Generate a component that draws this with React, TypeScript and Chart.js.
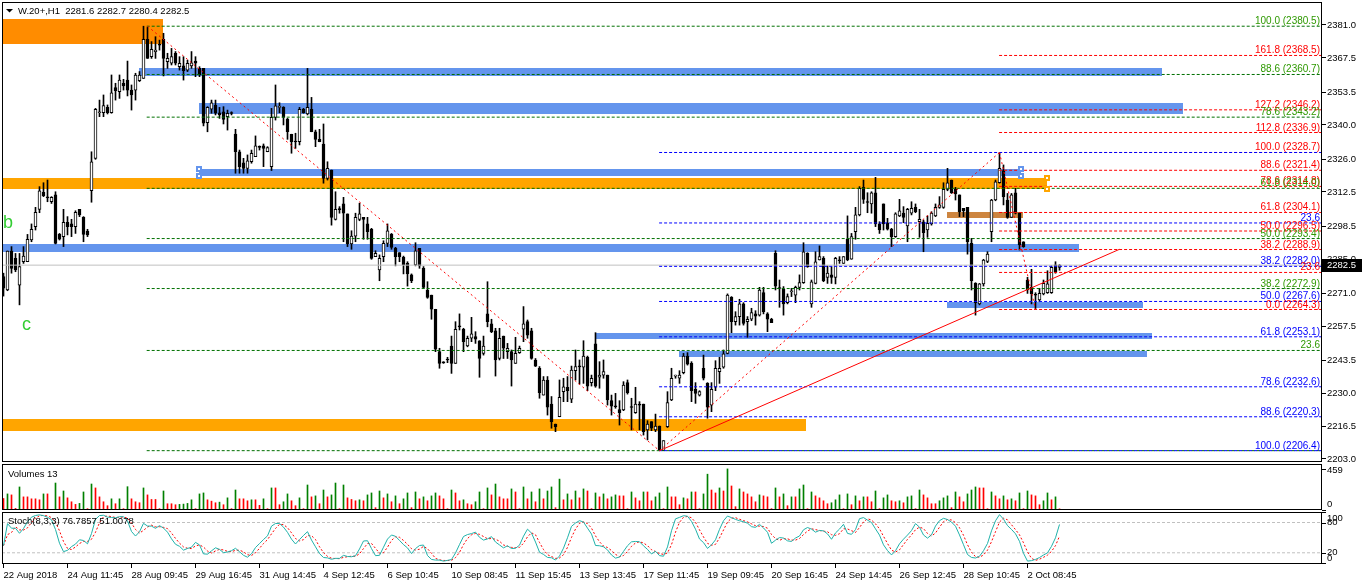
import React, { useEffect, useRef } from 'react';
import { Chart, registerables } from 'chart.js';

Chart.register(...registerables);

// ---------------- data ----------------
const symbolLabel = 'W.20+,H1';

const openP = [
  2277.8,2272.3,2288.3,2285.3,2274.3,2283.9,2283.9,2292.8,2298.3,2305.4,
  2312.4,2310.3,2308.5,2311.3,2295.1,2294.2,2300.1,2299.4,2298.3,2305.4,
  2302.1,2296.5,2313.0,2326.3,2345.0,2345.0,2347.2,2345.0,2355.3,2353.6,
  2357.1,2358.4,2354.3,2354.3,2358.2,2359.1,2375.1,2368.0,2370.1,2372.8,
  2375.1,2366.0,2365.3,2369.4,2363.9,2364.2,2362.5,2364.2,2366.2,2363.2,
  2363.2,2340.9,2346.5,2348.0,2345.0,2345.4,2343.4,2344.8,2336.3,2329.0,
  2324.5,2322.2,2324.9,2327.0,2331.1,2331.4,2329.0,2322.9,2343.1,2347.2,
  2347.2,2342.4,2336.2,2333.1,2333.1,2346.4,2344.5,2346.4,2337.2,2334.1,
  2332.2,2318.1,2321.5,2301.3,2305.4,2307.6,2303.5,2291.2,2294.4,2301.3,
  2302.1,2299.4,2297.2,2286.0,2280.5,2286.0,2291.4,2295.1,2289.4,2287.6,
  2285.7,2283.2,2278.5,2282.6,2289.4,2281.2,2272.3,2270.2,2264.4,2247.0,
  2242.5,2243.6,2249.3,2242.2,2257.3,2256.2,2249.4,2252.5,2253.2,2251.5,
  2246.3,2262.5,2258.4,2255.6,2244.2,2253.4,2247.0,2247.0,2242.2,2246.6,
  2256.2,2259.3,2255.6,2243.6,2240.2,2229.2,2235.4,2225.5,2217.3,2220.3,
  2230.6,2232.4,2227.5,2239.2,2240.9,2240.6,2244.7,2234.3,2250.2,2236.5,
  2237.4,2237.4,2226.9,2224.5,2223.3,2223.1,2234.3,2224.2,2222.0,2225.2,
  2225.5,2214.9,2218.3,2214.9,2216.5,2206.4,2216.2,2227.2,2237.0,2236.1,
  2238.4,2245.2,2242.2,2231.6,2229.2,2240.2,2234.0,2225.1,2232.4,2238.8,
  2240.6,2246.3,2269.3,2259.3,2261.4,2266.6,2259.3,2260.3,2262.5,2262.0,
  2271.2,2262.5,2260.3,2287.3,2273.0,2272.6,2267.1,2271.6,2270.2,2273.4,
  2275.3,2287.3,2266.6,2275.0,2284.6,2285.3,2277.5,2278.5,2277.5,2284.4,
  2283.2,2293.1,2284.9,2296.2,2303.1,2314.4,2308.3,2307.6,2312.2,2299.4,
  2307.6,2299.9,2297.2,2294.2,2302.7,2303.8,2298.6,2303.8,2306.2,2300.3,
  2300.3,2296.9,2299.4,2302.7,2306.2,2306.2,2313.6,2317.4,2313.6,2311.3,
  2305.8,2306.2,2291.4,2275.0,2266.6,2274.8,2284.0,2296.2,2309.2,2316.3,
  2321.3,2309.2,2302.1,2312.2,2303.8,2292.1,2276.4,2273.4,2270.3,2268.2,
  2270.7,2271.2,2271.2,2282.6,2281.6,
];

const highP = [
  2279.2,2288.3,2290.1,2287.3,2287.3,2290.1,2295.1,2299.4,2306.2,2314.7,
  2316.3,2317.4,2310.6,2312.6,2295.5,2305.4,2302.4,2301.3,2304.8,2305.4,
  2302.4,2297.2,2329.0,2346.8,2350.2,2352.3,2348.2,2360.5,2357.1,2360.5,
  2358.7,2366.2,2356.4,2361.2,2361.9,2380.5,2380.0,2374.2,2376.2,2374.8,
  2377.6,2369.4,2371.4,2370.1,2368.0,2368.0,2366.6,2370.1,2368.0,2363.9,
  2363.2,2347.5,2350.2,2350.2,2347.2,2347.5,2346.1,2345.4,2338.2,2329.7,
  2326.3,2327.7,2329.7,2335.5,2331.4,2332.2,2331.1,2346.8,2356.4,2349.1,
  2347.5,2342.7,2336.2,2336.6,2347.2,2346.8,2363.2,2351.3,2337.9,2338.2,
  2340.4,2324.9,2321.5,2312.6,2306.5,2310.3,2303.5,2296.6,2303.8,2307.9,
  2302.1,2302.1,2297.6,2288.4,2286.7,2292.5,2299.4,2295.5,2289.8,2287.6,
  2286.2,2283.9,2278.9,2291.7,2289.4,2281.9,2275.7,2270.2,2264.4,2248.4,
  2242.9,2244.7,2253.4,2259.3,2262.5,2256.6,2253.4,2261.1,2255.2,2251.5,
  2253.4,2275.7,2260.3,2256.6,2256.6,2253.4,2250.4,2247.7,2252.9,2249.3,
  2265.5,2260.0,2256.6,2244.2,2240.9,2236.8,2236.8,2228.6,2217.3,2235.4,
  2236.1,2236.8,2241.1,2247.7,2243.6,2251.5,2245.2,2237.4,2254.8,2242.9,
  2243.6,2237.4,2229.2,2229.9,2226.9,2234.7,2235.4,2227.9,2232.4,2226.5,
  2225.5,2218.7,2218.3,2221.4,2216.5,2210.5,2230.6,2240.2,2237.4,2239.2,
  2246.3,2246.6,2242.9,2234.3,2231.0,2245.6,2234.3,2234.3,2243.3,2244.7,
  2247.7,2270.7,2269.6,2263.4,2268.5,2267.1,2261.4,2264.8,2263.8,2273.4,
  2273.4,2263.0,2260.7,2288.4,2276.4,2273.7,2270.7,2273.0,2273.9,2278.5,
  2291.7,2287.6,2276.4,2288.0,2290.4,2286.0,2282.2,2281.9,2285.7,2286.0,
  2286.0,2302.7,2295.5,2306.2,2314.7,2317.4,2312.2,2312.6,2318.5,2300.3,
  2307.6,2301.7,2297.6,2304.0,2309.5,2306.5,2305.8,2308.5,2307.6,2305.4,
  2301.0,2302.7,2304.4,2307.6,2310.6,2316.3,2322.2,2317.4,2314.4,2311.3,
  2305.8,2306.2,2293.5,2275.3,2275.0,2284.9,2288.0,2309.5,2317.4,2328.7,
  2323.6,2311.9,2311.9,2314.0,2304.0,2292.1,2277.5,2280.8,2271.2,2273.0,
  2276.4,2280.2,2282.2,2283.9,2282.7,
];

const lowP = [
  2269.8,2272.0,2279.2,2279.8,2266.2,2283.2,2283.9,2292.1,2296.9,2304.0,
  2310.6,2308.5,2307.8,2291.2,2292.8,2290.1,2294.9,2294.2,2295.5,2302.4,
  2292.1,2294.2,2308.3,2325.9,2343.4,2343.4,2344.5,2344.8,2350.2,2350.9,
  2354.3,2351.9,2346.1,2350.2,2357.8,2359.1,2367.3,2367.3,2367.3,2370.7,
  2360.1,2363.2,2364.6,2364.6,2362.5,2358.4,2361.9,2363.2,2359.8,2359.8,
  2339.6,2337.2,2344.8,2344.1,2342.7,2340.4,2337.9,2344.1,2320.2,2320.2,
  2320.2,2320.2,2324.3,2327.0,2329.7,2322.9,2329.0,2321.3,2342.0,2345.0,
  2340.0,2334.1,2328.4,2330.4,2331.8,2344.8,2344.1,2337.2,2331.1,2333.1,
  2316.1,2317.4,2298.9,2301.0,2303.8,2292.1,2290.1,2289.0,2292.1,2300.7,
  2293.1,2293.1,2284.9,2286.0,2276.1,2283.9,2290.1,2289.0,2282.2,2283.9,
  2278.9,2273.9,2275.3,2282.2,2281.2,2272.9,2268.9,2260.3,2247.0,2240.2,
  2242.2,2242.5,2238.1,2242.2,2255.9,2247.0,2249.0,2251.1,2250.4,2236.5,
  2245.6,2257.2,2254.8,2237.0,2243.6,2244.2,2244.2,2232.9,2242.2,2246.3,
  2251.1,2252.5,2243.9,2240.9,2227.9,2229.2,2221.0,2215.6,2214.2,2220.3,
  2226.5,2226.5,2226.1,2235.4,2233.7,2234.0,2231.0,2232.9,2232.4,2232.0,
  2236.1,2225.1,2221.0,2223.8,2216.9,2222.8,2229.6,2214.9,2221.7,2214.9,
  2212.8,2210.8,2214.6,2214.2,2206.4,2206.4,2215.9,2226.9,2236.1,2234.0,
  2237.9,2241.5,2226.5,2225.8,2228.8,2235.4,2219.7,2222.4,2231.0,2234.0,
  2240.2,2246.1,2254.8,2257.9,2257.9,2257.9,2252.9,2259.7,2257.9,2261.6,
  2262.5,2255.2,2258.9,2272.3,2265.2,2262.0,2266.6,2269.6,2267.1,2272.3,
  2275.0,2281.6,2265.2,2274.8,2284.6,2275.7,2275.0,2275.0,2274.8,2283.2,
  2283.2,2284.3,2284.9,2293.1,2302.7,2307.8,2304.0,2303.8,2298.3,2295.5,
  2296.9,2296.9,2290.1,2293.9,2302.4,2299.9,2292.1,2303.1,2304.0,2293.9,
  2288.0,2293.9,2298.9,2302.4,2305.8,2305.8,2313.0,2311.9,2309.2,2302.4,
  2302.4,2287.0,2272.3,2262.0,2266.2,2273.9,2283.5,2292.1,2308.9,2316.1,
  2307.2,2301.7,2302.1,2303.5,2288.7,2289.8,2270.9,2266.6,2264.3,2267.5,
  2270.3,2270.9,2270.9,2279.2,2280.4,
];

const closeP = [
  2273.0,2288.3,2281.2,2280.5,2281.9,2286.2,2293.1,2297.2,2304.2,2313.0,
  2311.0,2310.1,2310.3,2291.4,2293.1,2300.1,2298.3,2298.3,2304.2,2303.1,
  2295.1,2294.9,2324.9,2346.4,2345.2,2347.9,2345.0,2353.2,2354.1,2358.4,
  2356.0,2354.3,2352.3,2360.5,2360.5,2375.1,2367.3,2371.0,2370.7,2372.7,
  2367.3,2367.3,2368.0,2365.3,2365.3,2362.3,2365.3,2365.5,2365.3,2360.5,
  2340.7,2347.2,2349.1,2344.8,2344.1,2342.3,2344.8,2344.7,2329.0,2322.9,
  2322.2,2325.3,2328.4,2331.4,2330.8,2330.4,2330.7,2343.1,2347.8,2347.3,
  2343.1,2337.2,2333.1,2333.0,2346.4,2345.0,2347.2,2337.2,2334.1,2333.1,
  2318.1,2322.2,2302.1,2305.4,2305.3,2303.8,2291.2,2294.4,2302.1,2303.5,
  2301.3,2296.2,2285.3,2287.3,2285.3,2291.4,2296.6,2289.8,2286.0,2286.0,
  2282.6,2278.9,2276.1,2288.4,2282.2,2273.4,2269.3,2264.4,2248.0,2242.2,
  2242.4,2243.6,2242.2,2256.2,2257.2,2251.1,2252.5,2254.3,2252.1,2244.2,
  2249.3,2259.3,2255.2,2243.6,2252.5,2248.4,2248.4,2243.6,2246.3,2248.4,
  2258.4,2253.8,2244.2,2241.1,2230.2,2235.4,2224.2,2218.3,2216.2,2228.3,
  2232.6,2231.0,2239.5,2240.9,2240.8,2245.2,2232.9,2236.1,2232.9,2237.4,
  2238.8,2227.2,2224.7,2224.4,2222.0,2233.3,2230.2,2224.1,2225.5,2225.1,
  2214.2,2217.3,2215.6,2216.5,2206.7,2210.5,2226.1,2236.1,2237.1,2237.4,
  2245.2,2241.9,2231.0,2229.9,2230.6,2236.1,2224.2,2231.6,2240.2,2240.2,
  2246.1,2270.2,2259.3,2261.4,2266.6,2258.6,2260.3,2263.0,2261.6,2272.3,
  2263.4,2260.3,2258.9,2273.9,2272.9,2266.6,2269.6,2271.7,2273.4,2275.3,
  2288.0,2281.9,2275.7,2283.9,2286.0,2276.1,2279.2,2277.5,2285.3,2284.3,
  2286.0,2284.6,2294.2,2303.1,2314.0,2309.5,2308.2,2312.2,2299.4,2296.9,
  2299.4,2297.2,2294.2,2303.5,2304.8,2302.1,2305.4,2305.8,2304.4,2301.3,
  2295.8,2299.6,2303.8,2306.2,2307.2,2313.6,2316.3,2312.2,2311.7,2304.4,
  2304.8,2292.1,2276.1,2267.1,2274.8,2284.6,2287.0,2309.2,2316.7,2322.2,
  2310.6,2302.1,2311.3,2303.8,2290.8,2290.1,2272.3,2270.7,2270.2,2270.9,
  2275.0,2274.8,2281.6,2279.8,2282.5,
];

const volumes = [
  129,180,169,18,258,147,147,125,125,114,
  180,180,7,302,147,213,136,92,63,74,
  202,15,291,247,147,92,48,125,70,125,
  15,261,125,92,81,247,169,118,118,15,
  213,70,70,59,63,66,74,114,15,180,
  191,114,99,81,88,59,136,15,224,125,
  125,103,114,114,52,125,15,247,247,59,
  92,180,103,48,136,15,280,147,158,70,
  224,147,169,302,15,280,136,118,103,114,
  103,169,191,26,213,136,180,92,158,70,
  125,191,26,202,125,147,103,158,191,158,
  125,15,224,191,103,114,70,59,92,202,
  15,247,169,291,147,125,125,236,202,15,
  258,125,202,92,236,125,213,258,26,346,
  114,180,114,213,136,236,213,15,191,147,
  180,125,147,169,158,158,15,202,136,103,
  202,202,103,147,191,15,258,147,147,59,
  136,125,202,202,15,180,401,224,191,247,
  213,460,269,37,236,202,180,147,92,169,
  158,147,15,247,147,180,48,147,147,236,
  280,15,202,158,136,103,70,81,114,169,
  15,180,59,158,103,147,147,92,213,15,
  136,169,103,92,103,81,147,158,15,224,
  169,136,70,70,103,136,158,26,202,147,
  92,180,224,258,247,247,15,202,158,125,
  158,114,125,103,191,15,213,169,158,59,
  103,191,114,147,13,
];

const priceTicks = [2381.0, 2367.5, 2353.5, 2340.0, 2326.0, 2312.5, 2298.5, 2285.0, 2271.0, 2257.5, 2243.5, 2230.0, 2216.5, 2203.0];
const volumeTicks = [459, 0];
const stochTicks = [100, 80, 20, 0];
const stochLevels = [80, 20];
const stochTitle = 'Stoch(8,3,3) 76.7857 51.0078';

const dateTickBars = [0, 16, 32, 48, 64, 80, 96, 112, 128, 144, 160, 176, 192, 208, 224, 240, 256];
const dateTickLabels = [
  '22 Aug 2018', '24 Aug 11:45', '28 Aug 09:45', '29 Aug 16:45', '31 Aug 14:45', '4 Sep 12:45',
  '6 Sep 10:45', '10 Sep 08:45', '11 Sep 15:45', '13 Sep 13:45', '17 Sep 11:45', '19 Sep 09:45',
  '20 Sep 16:45', '24 Sep 14:45', '26 Sep 12:45', '28 Sep 10:45', '2 Oct 08:45',
];

// Fibonacci objects (level %, price); labels hidden where another object's label covers them
const greenFibLevels = [0, 23.6, 38.2, 50, 61.8, 78.6, 88.6, 100];
const greenFibPrices = [2206.4, 2247.5, 2272.9, 2293.4, 2314.0, 2343.2, 2360.7, 2380.5];
const greenFibHidden = [0];
const greenFibStart = 35.8;
const blueFibLevels = [0, 23.6, 38.2, 50, 61.8, 78.6, 88.6, 100];
const blueFibPrices = [2328.7, 2299.8, 2282.0, 2267.6, 2253.1, 2232.6, 2220.3, 2206.4];
const blueFibHidden = [0];
const blueFibStart = 163.9;
const redFibLevels = [0, 23.6, 38.2, 50, 61.8, 78.6, 88.6, 100, 112.8, 127.2, 161.8];
const redFibPrices = [2264.3, 2279.5, 2288.9, 2296.5, 2304.1, 2314.8, 2321.4, 2328.7, 2336.9, 2346.2, 2368.5];
const redFibHidden: number[] = [];
const redFibStart = 248.9;

// trend lines (bar index, price)
const trendFromBar = [36, 164, 249, 164];
const trendFromPrice = [2380.5, 2206.4, 2328.7, 2206.4];
const trendToBar = [164, 249, 258, 279];
const trendToPrice = [2206.4, 2328.7, 2264.3, 2289.0];
const trendDashed = [true, true, true, false];

// rectangles (bar index range, price range)
const zoneFrom = [-5, 33.9, 48.9, 48.9, -5, -5, -5, 148.1, 168.9, 235.9, 235.9];
const zoneTo = [39.9, 289.6, 294.9, 254.4, 260.9, 268.9, 200.6, 287.1, 285.9, 284.9, 254.9];
const zoneTop = [2383.5, 2363.2, 2349.1, 2321.9, 2318.1, 2291.2, 2219.4, 2254.8, 2247.4, 2267.2, 2304.3];
const zoneBottom = [2373.2, 2360.1, 2344.5, 2319.2, 2313.8, 2288.0, 2214.6, 2252.1, 2245.0, 2264.8, 2301.8];
const zoneKind = ['darkorange', 'blue', 'blue', 'blue', 'orange', 'blue', 'orange', 'blue', 'blue', 'blue', 'brown'];
const zoneSelected = [false, false, false, true, true, false, false, false, false, false, false];

// text objects
const textLabels = ['b', 'c'];
const textBars = [-0.1, 4.6];
const textPrices = [2297.7, 2255.9];

// ---------------- styling ----------------
const FONT = "'Liberation Sans', Arial, sans-serif";
const SMALL = 9.5;
const X_MIN = -0.375;
const X_MAX = 329.625;
const AXIS_W = 40;
const ZONE_COLORS: any = { darkorange: '#FF8C00', orange: '#FFA500', blue: '#6495ED', brown: '#CD853F' };
const GREEN_LINE = '#007000';
const GREEN_TEXT = '#2E9900';
const BLUE = '#0000FF';
const RED = '#FF0000';

function stochastic(h: number[], l: number[], c: number[], kPeriod: number, slowing: number, dPeriod: number) {
  const n = c.length;
  const num: number[] = [];
  const den: number[] = [];
  for (let i = 0; i < n; i++) {
    const s = Math.max(0, i - kPeriod + 1);
    let hh = -Infinity;
    let ll = Infinity;
    for (let j = s; j <= i; j++) {
      hh = Math.max(hh, h[j]);
      ll = Math.min(ll, l[j]);
    }
    num.push(c[i] - ll);
    den.push(hh - ll);
  }
  const k: number[] = [];
  for (let i = 0; i < n; i++) {
    const s = Math.max(0, i - slowing + 1);
    let sn = 0;
    let sd = 0;
    for (let j = s; j <= i; j++) {
      sn += num[j];
      sd += den[j];
    }
    k.push(sd > 0 ? (100 * sn) / sd : 50);
  }
  const d: number[] = [];
  for (let i = 0; i < n; i++) {
    const s = Math.max(0, i - dPeriod + 1);
    let sum = 0;
    for (let j = s; j <= i; j++) sum += k[j];
    d.push(sum / (i - s + 1));
  }
  return { k, d };
}

const framePlugin = {
  id: 'frame',
  afterDraw(chart: any) {
    const { ctx, chartArea: a } = chart;
    ctx.save();
    ctx.strokeStyle = '#000';
    ctx.lineWidth = 1;
    const l = Math.round(a.left);
    const t = Math.round(a.top);
    const r = Math.round(a.right);
    const b = Math.round(a.bottom);
    ctx.strokeRect(l + 0.5, t + 0.5, r - l - 1, b - t - 1);
    ctx.restore();
  },
};

function sideLabels(chart: any, values: number[]) {
  const { ctx, chartArea: a, scales } = chart;
  const y = scales.y;
  ctx.save();
  ctx.font = `${SMALL}px ${FONT}`;
  ctx.fillStyle = '#000';
  ctx.strokeStyle = '#000';
  ctx.textAlign = 'left';
  ctx.textBaseline = 'middle';
  values.forEach((v) => {
    const py = y.getPixelForValue(v);
    const ly = Math.min(Math.max(py, a.top + 6), a.bottom - 6);
    ctx.beginPath();
    ctx.moveTo(a.right, Math.round(py) + 0.5);
    ctx.lineTo(a.right + 4, Math.round(py) + 0.5);
    ctx.stroke();
    ctx.fillText(String(v), a.right + 5, ly);
  });
  ctx.restore();
}

function fibText(level: number, price: number) {
  if (level === 23.6) return '23.6';
  return `${level.toFixed(1)} (${price.toFixed(1)})`;
}

const noPadFit = (s: any) => {
  s.width = AXIS_W;
  s.paddingTop = 0;
  s.paddingBottom = 0;
};

export default function App() {
  const mainRef = useRef<HTMLCanvasElement>(null);
  const volRef = useRef<HTMLCanvasElement>(null);
  const stochRef = useRef<HTMLCanvasElement>(null);

  useEffect(() => {
    Chart.defaults.font.family = FONT;
    const bars = closeP.map((_, i) => i);
    const last = closeP.length - 1;

    // ---------- main price chart ----------
    const lineDs = (pts: any[], color: string, dash: number[], order: number) => ({
      type: 'line',
      data: pts,
      borderColor: color,
      borderWidth: 1,
      borderDash: dash,
      pointRadius: 0,
      fill: false,
      tension: 0,
      order,
    });

    const fibSets = [
      { levels: blueFibLevels, prices: blueFibPrices, hidden: blueFibHidden, start: blueFibStart, line: BLUE, text: BLUE },
      { levels: redFibLevels, prices: redFibPrices, hidden: redFibHidden, start: redFibStart, line: RED, text: RED },
      { levels: greenFibLevels, prices: greenFibPrices, hidden: greenFibHidden, start: greenFibStart, line: GREEN_LINE, text: GREEN_TEXT },
    ];

    const fibDatasets: any[] = [];
    fibSets.forEach((f) => {
      f.prices.forEach((p) => {
        fibDatasets.push(lineDs([{ x: f.start, y: p }, { x: X_MAX, y: p }], f.line, [3, 2], 3));
      });
    });

    const trendDatasets = trendFromBar.map((fb, i) =>
      lineDs(
        [{ x: fb, y: trendFromPrice[i] }, { x: trendToBar[i], y: trendToPrice[i] }],
        RED,
        trendDashed[i] ? [2, 3] : [],
        2,
      ),
    );

    const bidLine = lineDs([{ x: X_MIN, y: closeP[last] }, { x: X_MAX, y: closeP[last] }], '#C0C0C0', [], 4);

    const zonesPlugin = {
      id: 'zones',
      beforeDatasetsDraw(chart: any) {
        const { ctx, chartArea: a, scales: { x, y } } = chart;
        ctx.save();
        ctx.beginPath();
        ctx.rect(a.left, a.top, a.right - a.left, a.bottom - a.top);
        ctx.clip();
        zoneFrom.forEach((from, i) => {
          const x1 = Math.round(x.getPixelForValue(from));
          const x2 = Math.round(x.getPixelForValue(zoneTo[i]));
          const y1 = Math.round(y.getPixelForValue(zoneTop[i]));
          const y2 = Math.round(y.getPixelForValue(zoneBottom[i]));
          ctx.fillStyle = ZONE_COLORS[zoneKind[i]];
          ctx.fillRect(x1, y1, x2 - x1, y2 - y1);
        });
        ctx.restore();
      },
    };

    const overlayPlugin = {
      id: 'overlay',
      afterDatasetsDraw(chart: any) {
        const { ctx, chartArea: a, scales: { x, y } } = chart;
        ctx.save();
        // selection handles on selected rectangles
        zoneFrom.forEach((from, i) => {
          if (!zoneSelected[i]) return;
          const ends = [from, zoneTo[i]].filter((v) => v > X_MIN && v < X_MAX);
          ends.forEach((e) => {
            const px = Math.round(x.getPixelForValue(e));
            [zoneTop[i], zoneBottom[i]].forEach((p) => {
              const py = Math.round(y.getPixelForValue(p));
              ctx.fillStyle = ZONE_COLORS[zoneKind[i]];
              ctx.fillRect(px - 3, py - 3, 6, 6);
              ctx.fillStyle = '#fff';
              ctx.fillRect(px - 1, py - 1, 2, 2);
            });
          });
        });
        // fibonacci labels
        ctx.font = `10px ${FONT}`;
        ctx.textAlign = 'right';
        ctx.textBaseline = 'alphabetic';
        fibSets.forEach((f) => {
          ctx.fillStyle = f.text;
          f.levels.forEach((lv, j) => {
            if (f.hidden.includes(lv)) return;
            ctx.fillText(fibText(lv, f.prices[j]), a.right - 2, y.getPixelForValue(f.prices[j]) - 2);
          });
        });
        // text objects
        ctx.font = `18px ${FONT}`;
        ctx.fillStyle = '#32CD32';
        ctx.textAlign = 'left';
        textLabels.forEach((t, i) => {
          ctx.fillText(t, x.getPixelForValue(textBars[i]), y.getPixelForValue(textPrices[i]));
        });
        // header
        ctx.fillStyle = '#000';
        ctx.beginPath();
        ctx.moveTo(6, 9);
        ctx.lineTo(13, 9);
        ctx.lineTo(9.5, 12.5);
        ctx.closePath();
        ctx.fill();
        ctx.font = `${SMALL}px ${FONT}`;
        const header = `${symbolLabel}  ${openP[last].toFixed(1)} ${highP[last].toFixed(1)} ${lowP[last].toFixed(1)} ${closeP[last].toFixed(1)}`;
        ctx.fillText(header, 18, 14);
        ctx.restore();
      },
      afterDraw(chart: any) {
        const { ctx, chartArea: a, scales: { y } } = chart;
        const py = Math.round(y.getPixelForValue(closeP[last]));
        ctx.save();
        ctx.fillStyle = '#000';
        ctx.fillRect(a.right, py - 6, 40, 13);
        ctx.fillStyle = '#fff';
        ctx.font = `${SMALL}px ${FONT}`;
        ctx.textAlign = 'left';
        ctx.textBaseline = 'middle';
        ctx.fillText(closeP[last].toFixed(1), a.right + 5, py + 0.5);
        ctx.restore();
      },
    };

    const mainChart = new Chart(mainRef.current as HTMLCanvasElement, {
      type: 'bar',
      data: {
        datasets: [
          ...trendDatasets,
          ...fibDatasets,
          bidLine,
          {
            type: 'bar',
            data: bars.map((i) => ({ x: i, y: [openP[i], closeP[i]] })),
            backgroundColor: bars.map((i) => (closeP[i] > openP[i] ? '#FFFFFF' : '#000000')),
            borderColor: '#000',
            borderWidth: 1,
            borderSkipped: false,
            barThickness: 3,
            minBarLength: 1,
            grouped: false,
            order: 5,
          },
          {
            type: 'bar',
            data: bars.map((i) => ({ x: i, y: [lowP[i], highP[i]] })),
            backgroundColor: '#000',
            borderWidth: 0,
            barThickness: 1,
            minBarLength: 1,
            grouped: false,
            order: 6,
          },
        ] as any,
      },
      options: {
        responsive: false,
        animation: false,
        events: [],
        layout: { autoPadding: false, padding: { left: 2, top: 2, right: 0, bottom: 2 } },
        plugins: { legend: { display: false }, tooltip: { enabled: false } },
        scales: {
          x: { type: 'linear', min: X_MIN, max: X_MAX, offset: false, display: false },
          y: {
            type: 'linear',
            position: 'right',
            min: 2201.75,
            max: 2390.43,
            afterFit: noPadFit,
            afterBuildTicks: (s: any) => { s.ticks = priceTicks.map((v) => ({ value: v })); },
            grid: { drawOnChartArea: false, drawTicks: true, tickLength: 4, color: '#000' },
            border: { display: false },
            ticks: {
              callback: (v: any) => Number(v).toFixed(1),
              font: { family: FONT, size: SMALL },
              color: '#000',
              padding: 1,
            },
          },
        },
      } as any,
      plugins: [zonesPlugin, overlayPlugin, framePlugin],
    });

    // ---------- volume chart ----------
    const volPlugin = {
      id: 'volText',
      afterDraw(chart: any) {
        const { ctx, chartArea: a } = chart;
        ctx.save();
        ctx.font = `${SMALL}px ${FONT}`;
        ctx.fillStyle = '#000';
        ctx.textAlign = 'left';
        ctx.fillText(`Volumes ${volumes[last]}`, 8, a.top + 13);
        ctx.restore();
        sideLabels(chart, volumeTicks);
      },
    };

    const volChart = new Chart(volRef.current as HTMLCanvasElement, {
      type: 'bar',
      data: {
        datasets: [
          {
            data: bars.map((i) => ({ x: i, y: volumes[i] })),
            backgroundColor: bars.map((i) => (i > 0 && volumes[i] > volumes[i - 1] ? '#008000' : '#FF0000')),
            borderWidth: 0,
            barThickness: 1,
            grouped: false,
          },
        ],
      },
      options: {
        responsive: false,
        animation: false,
        events: [],
        layout: { autoPadding: false, padding: { left: 2, top: 1, right: 0, bottom: 1 } },
        plugins: { legend: { display: false }, tooltip: { enabled: false } },
        scales: {
          x: { type: 'linear', min: X_MIN, max: X_MAX, offset: false, display: false },
          y: {
            type: 'linear',
            position: 'right',
            min: 0,
            max: 515,
            afterFit: noPadFit,
            grid: { display: false },
            border: { display: false },
            ticks: { display: false },
          },
        },
      } as any,
      plugins: [volPlugin, framePlugin],
    });

    // ---------- stochastic chart ----------
    const st = stochastic(highP, lowP, closeP, 8, 3, 3);
    const stochPlugin = {
      id: 'stochText',
      afterDraw(chart: any) {
        const { ctx, chartArea: a } = chart;
        ctx.save();
        ctx.font = `${SMALL}px ${FONT}`;
        ctx.fillStyle = '#000';
        ctx.textAlign = 'left';
        ctx.fillText(stochTitle, 8, a.top + 12);
        ctx.restore();
        sideLabels(chart, stochTicks);
      },
    };

    const stochChart = new Chart(stochRef.current as HTMLCanvasElement, {
      type: 'line',
      data: {
        datasets: [
          {
            data: bars.map((i) => ({ x: i, y: st.k[i] })),
            borderColor: '#20B2AA',
            borderWidth: 1,
            pointRadius: 0,
            tension: 0,
            order: 1,
          },
          {
            data: bars.map((i) => ({ x: i, y: st.d[i] })),
            borderColor: '#FF0000',
            borderWidth: 1,
            borderDash: [2, 2],
            pointRadius: 0,
            tension: 0,
            order: 2,
          },
          ...stochLevels.map((lv) => ({
            data: [{ x: X_MIN, y: lv }, { x: X_MAX, y: lv }],
            borderColor: '#C0C0C0',
            borderWidth: 1,
            borderDash: [3, 2],
            pointRadius: 0,
            order: 3,
          })),
        ],
      },
      options: {
        responsive: false,
        animation: false,
        events: [],
        layout: { autoPadding: false, padding: { left: 2, top: 1, right: 0, bottom: 0 } },
        plugins: { legend: { display: false }, tooltip: { enabled: false } },
        scales: {
          x: {
            type: 'linear',
            position: 'bottom',
            min: X_MIN,
            max: X_MAX,
            offset: false,
            afterFit: (s: any) => {
              s.height = 21;
              s.paddingLeft = 0;
              s.paddingRight = 0;
            },
            afterBuildTicks: (s: any) => { s.ticks = dateTickBars.map((v) => ({ value: v })); },
            grid: { drawOnChartArea: false, drawTicks: true, tickLength: 4, color: '#000' },
            border: { display: false },
            ticks: {
              callback: (_v: any, idx: number) => dateTickLabels[idx],
              align: 'start',
              autoSkip: false,
              maxRotation: 0,
              minRotation: 0,
              font: { family: FONT, size: SMALL },
              color: '#000',
              padding: 2,
            },
          },
          y: {
            type: 'linear',
            position: 'right',
            min: -2.2,
            max: 100.8,
            afterFit: noPadFit,
            grid: { display: false },
            border: { display: false },
            ticks: { display: false },
          },
        },
      } as any,
      plugins: [stochPlugin, framePlugin],
    });

    return () => {
      mainChart.destroy();
      volChart.destroy();
      stochChart.destroy();
    };
  }, []);

  return (
    <div style={{ position: 'absolute', left: 0, top: 0, width: 1362, height: 585, background: '#fff', overflow: 'hidden' }}>
      <canvas ref={mainRef} width={1362} height={464} style={{ position: 'absolute', left: 0, top: 0, width: 1362, height: 464 }} />
      <canvas ref={volRef} width={1362} height={48} style={{ position: 'absolute', left: 0, top: 463, width: 1362, height: 48 }} />
      <canvas ref={stochRef} width={1362} height={74} style={{ position: 'absolute', left: 0, top: 511, width: 1362, height: 74 }} />
    </div>
  );
}
